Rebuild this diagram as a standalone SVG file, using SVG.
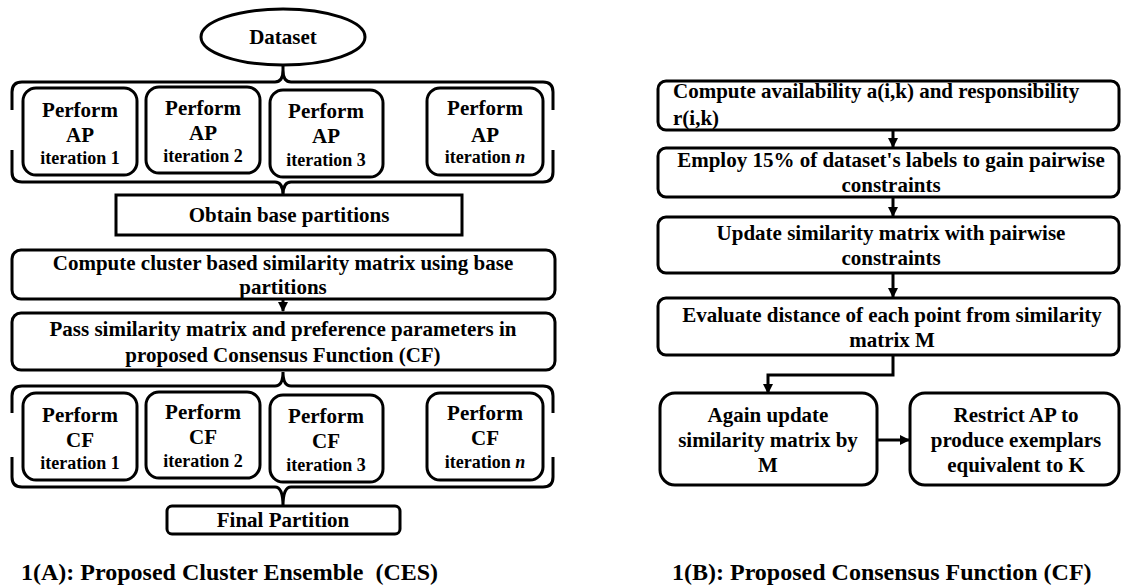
<svg xmlns="http://www.w3.org/2000/svg" width="1121" height="588" viewBox="0 0 1121 588">
<style>
text{font-family:"Liberation Serif","Times New Roman",serif;font-weight:bold;fill:#000;text-anchor:middle;font-size:21px}
.it{font-size:18px}
.cap{font-size:24px;text-anchor:start}
.b{fill:#fff;stroke:#000;stroke-width:3}
.l{fill:none;stroke:#000;stroke-width:3}
</style>
<defs>
<marker id="ah" markerWidth="10" markerHeight="10" refX="9" refY="5" orient="auto" markerUnits="userSpaceOnUse">
<path d="M0,0 L10,5 L0,10 Z" fill="#000"/>
</marker>
</defs>
<rect width="1121" height="588" fill="#fff"/>

<g id="connectors">
<path class="l" d="M12,110 V92 Q12,82 22,82 H275 Q283,82 283,70 V64 M283,70 Q283,82 291,82 H543 Q553,82 553,92 V110"/>
<path class="l" d="M12,150 V172 Q12,182 22,182 H275 Q283,182 283,195 M283,195 Q283,182 291,182 H543 Q553,182 553,172 V150"/>
<path class="l" d="M283,299 V311" marker-end="url(#ah)"/>
<path class="l" d="M12,413 V396 Q12,386 22,386 H275 Q283,386 283,372 M283,372 Q283,386 291,386 H543 Q553,386 553,396 V413"/>
<path class="l" d="M12,457 V477 Q12,487 22,487 H275 Q283,487 283,506 M283,506 Q283,487 291,487 H543 Q553,487 553,477 V457"/>
<path class="l" d="M893,130 V147" marker-end="url(#ah)"/>
<path class="l" d="M893,197 V216" marker-end="url(#ah)"/>
<path class="l" d="M893,273 V297" marker-end="url(#ah)"/>
<path class="l" d="M893,356 V375 H768 V393" marker-end="url(#ah)"/>
<path class="l" d="M878,440 H909" marker-end="url(#ah)"/>
</g>

<g id="dataset">
<ellipse class="b" cx="283" cy="37" rx="82" ry="28"/>
<text x="283" y="44">Dataset</text>
</g>

<g id="ap1"><rect class="b" x="23" y="88" width="114" height="87" rx="13"/>
<text x="80" y="117">Perform</text><text x="80" y="142">AP</text><text class="it" x="80" y="164">iteration 1</text></g>
<g id="ap2"><rect class="b" x="146" y="87" width="114" height="86" rx="13"/>
<text x="203" y="115">Perform</text><text x="203" y="140">AP</text><text class="it" x="203" y="162">iteration 2</text></g>
<g id="ap3"><rect class="b" x="270" y="90" width="113" height="87" rx="13"/>
<text x="326" y="118">Perform</text><text x="326" y="143">AP</text><text class="it" x="326" y="166">iteration 3</text></g>
<g id="apn"><rect class="b" x="427" y="88" width="116" height="87" rx="13"/>
<text x="485" y="115">Perform</text><text x="485" y="142">AP</text><text class="it" x="485" y="163">iteration <tspan font-style="italic">n</tspan></text></g>

<g id="obtain"><rect class="b" x="116" y="195" width="346" height="40"/>
<text x="289" y="222">Obtain base partitions</text></g>

<g id="compute"><rect class="b" x="12" y="250" width="543" height="49" rx="9"/>
<text x="283" y="270">Compute cluster based similarity matrix using base</text>
<text x="283" y="294">partitions</text></g>

<g id="pass"><rect class="b" x="12" y="313" width="543" height="57" rx="9"/>
<text x="283" y="336">Pass similarity matrix and preference parameters in</text>
<text x="283" y="362">proposed Consensus Function (CF)</text></g>

<g id="cf1"><rect class="b" x="23" y="393" width="114" height="87" rx="13"/>
<text x="80" y="422">Perform</text><text x="80" y="447">CF</text><text class="it" x="80" y="469">iteration 1</text></g>
<g id="cf2"><rect class="b" x="146" y="392" width="114" height="86" rx="13"/>
<text x="203" y="419">Perform</text><text x="203" y="444">CF</text><text class="it" x="203" y="467">iteration 2</text></g>
<g id="cf3"><rect class="b" x="270" y="395" width="113" height="87" rx="13"/>
<text x="326" y="423">Perform</text><text x="326" y="448">CF</text><text class="it" x="326" y="471">iteration 3</text></g>
<g id="cfn"><rect class="b" x="427" y="393" width="116" height="87" rx="13"/>
<text x="485" y="420">Perform</text><text x="485" y="445">CF</text><text class="it" x="485" y="468">iteration <tspan font-style="italic">n</tspan></text></g>

<g id="final"><rect class="b" x="167" y="506" width="233" height="28" rx="5"/>
<text x="283" y="527">Final Partition</text></g>

<g id="r1"><rect class="b" x="658" y="81" width="461" height="49" rx="8"/>
<text x="673" y="98" style="text-anchor:start">Compute availability a(i,k) and responsibility</text>
<text x="673" y="125" style="text-anchor:start">r(i,k)</text></g>
<g id="r2"><rect class="b" x="658" y="148" width="461" height="49" rx="8"/>
<text x="891" y="167">Employ 15% of dataset's labels to gain pairwise</text>
<text x="891" y="192">constraints</text></g>
<g id="r3"><rect class="b" x="658" y="217" width="461" height="56" rx="8"/>
<text x="891" y="240">Update similarity matrix with pairwise</text>
<text x="891" y="265">constraints</text></g>
<g id="r4"><rect class="b" x="658" y="298" width="461" height="57" rx="8"/>
<text x="892" y="322">Evaluate distance of each point from similarity</text>
<text x="892" y="347">matrix M</text></g>
<g id="r5"><rect class="b" x="660" y="393" width="217" height="92" rx="15"/>
<text x="768" y="422">Again update</text>
<text x="768" y="447">similarity matrix by</text>
<text x="768" y="472">M</text></g>
<g id="r6"><rect class="b" x="910" y="393" width="209" height="92" rx="15"/>
<text x="1016" y="422">Restrict AP to</text>
<text x="1016" y="447">produce exemplars</text>
<text x="1016" y="472">equivalent to K</text></g>

<text class="cap" x="21" y="580" xml:space="preserve">1(A): Proposed Cluster Ensemble  (CES)</text>
<text class="cap" x="672" y="580">1(B): Proposed Consensus Function (CF)</text>
</svg>
